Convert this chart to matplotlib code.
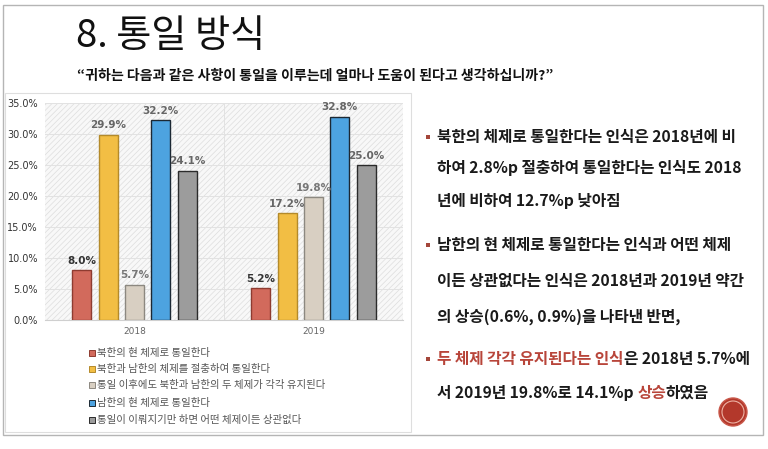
import matplotlib
matplotlib.use("Agg")
import matplotlib.pyplot as plt
import numpy as np
from matplotlib.patches import Rectangle, Ellipse

plt.rcParams['font.family'] = ['Noto Sans CJK KR', 'DejaVu Sans']
plt.rcParams['hatch.linewidth'] = 0.5

# 데이터
years = ['2018', '2019']
series_names = ['북한의 현 체제로 통일한다',
                '북한과 남한의 체제를 절충하여 통일한다',
                '통일 이후에도 북한과 남한의 두 체제가 각각 유지된다',
                '남한의 현 체제로 통일한다',
                '통일이 이뤄지기만 하면 어떤 체제이든 상관없다']
north_sys = [8.0, 5.2]
compromise = [29.9, 17.2]
two_sys = [5.7, 19.8]
south_sys = [32.2, 32.8]
any_sys = [24.1, 25.0]
y_ticks = [0, 5, 10, 15, 20, 25, 30, 35]

values = [north_sys, compromise, two_sys, south_sys, any_sys]
face_colors = ['#D26A5C', '#F2BE44', '#D8CFC2', '#4DA3E0', '#9C9C9C']
edge_colors = ['#8E3B30', '#B48A2A', '#8C8880', '#1C2833', '#2B2B2B']
label_colors = ['#333333', '#666666', '#777777', '#666666', '#666666']

W, H = 768, 449
fig = plt.figure(figsize=(W / 100, H / 100), dpi=100)
fig.patch.set_facecolor('white')

def fx(x):
    return x / W

def fy(y):
    return 1 - y / H

# 슬라이드 테두리
fig.add_artist(Rectangle((fx(3), fy(435)), fx(760), (435 - 5) / H,
                         transform=fig.transFigure, fill=False,
                         edgecolor='#b5b5b5', lw=1))
fig.add_artist(Rectangle((fx(5), fy(432)), fx(406), (432 - 93) / H,
                         transform=fig.transFigure, fill=False,
                         edgecolor='#dedede', lw=0.8))

# 제목
fig.text(fx(76), fy(37), '8. 통일 방식', fontsize=27.5, va='center', ha='left', color='#111111')
fig.text(fx(77), fy(76), '“귀하는 다음과 같은 사항이 통일을 이루는데 얼마나 도움이 된다고 생각하십니까?”',
         fontsize=10.1, fontweight='bold', va='center', ha='left', color='#111111')

# 차트
ax = fig.add_axes([fx(45), fy(320), (403 - 45) / W, (320 - 103) / H])
ax.add_patch(Rectangle((0, 0), 1, 1, transform=ax.transAxes, facecolor='#f8f8f8',
                       edgecolor='#dddddd', hatch='//////', lw=0, zorder=0))

x = np.arange(len(years))
step = 0.1475
width = 0.106
for i, vals in enumerate(values):
    pos = x + (i - 2) * step
    bars = ax.bar(pos, vals, width, color=face_colors[i], edgecolor=edge_colors[i],
                  lw=1, zorder=3, label=series_names[i])
    for b, v in zip(bars, vals):
        ax.annotate(f'{v:.1f}%', (b.get_x() + b.get_width() / 2, v),
                    xytext=(0, 3), textcoords='offset points', ha='center', va='bottom',
                    fontsize=7.5, fontweight='bold', color=label_colors[i],
                    family='DejaVu Sans', zorder=4)

ax.set_xlim(-0.5, 1.5)
ax.set_ylim(0, 35)
ax.set_yticks(y_ticks)
ax.set_yticklabels([f'{t:.1f}%' for t in y_ticks], fontsize=7, color='#333333',
                   family='DejaVu Sans')
ax.set_xticks(x)
ax.set_xticklabels(years, fontsize=6.5, color='#666666', family='DejaVu Sans')
ax.tick_params(length=0, pad=5)
for s in ['top', 'right', 'left']:
    ax.spines[s].set_visible(False)
ax.spines['bottom'].set_color('#cfcfcf')
ax.grid(axis='y', color='#e2e2e2', lw=0.7, zorder=1)
ax.axvline(0.5, color='#e2e2e2', lw=0.7, zorder=1)
ax.set_axisbelow(True)

# 범례
legend_y = [353, 369, 385, 403, 420]
for i, name in enumerate(series_names):
    fig.add_artist(Rectangle((fx(89), fy(legend_y[i] + 3)), 6 / W, 6 / H,
                             transform=fig.transFigure, facecolor=face_colors[i],
                             edgecolor=edge_colors[i], lw=0.7))
    fig.text(fx(97), fy(legend_y[i]), name, fontsize=7.5, va='center', ha='left',
             color='#555555')

# 오른쪽 설명
black = '#1a1a1a'
red = '#B8453A'
lines = [
    (137, True, [('북한의 체제로 통일한다는 인식은 2018년에 비', black)]),
    (168, False, [('하여 2.8%p 절충하여 통일한다는 인식도 2018', black)]),
    (201, False, [('년에 비하여 12.7%p 낮아짐', black)]),
    (245, True, [('남한의 현 체제로 통일한다는 인식과 어떤 체제', black)]),
    (281, False, [('이든 상관없다는 인식은 2018년과 2019년 약간', black)]),
    (317, False, [('의 상승(0.6%, 0.9%)을 나타낸 반면,', black)]),
    (359, True, [('두 체제 각각 유지된다는 인식', red), ('은 2018년 5.7%에', black)]),
    (393, False, [('서 2019년 19.8%로 14.1%p ', black), ('상승', red), ('하였음', black)]),
]
body_size = 11.3

renderer = fig.canvas.get_renderer()

def text_width(s):
    t = fig.text(0, 0, s, fontsize=body_size, fontweight='bold')
    w = t.get_window_extent(renderer=renderer).width
    t.remove()
    return w

for y, bullet, segs in lines:
    if bullet:
        fig.add_artist(Rectangle((fx(426), fy(y + 2)), 4 / W, 4 / H,
                                 transform=fig.transFigure, facecolor='#A4463A', lw=0))
    prefix = ''
    for s, c in segs:
        prefix += s
        start = text_width(prefix) - text_width(s) if prefix != s else 0
        fig.text(fx(437 + start), fy(y), s, fontsize=body_size, fontweight='bold',
                 va='center', ha='left', color=c)

# 장식 원
fig.add_artist(Ellipse((fx(733), fy(412)), 28 / W, 28 / H, transform=fig.transFigure,
                       facecolor='#B3382B', edgecolor='#C9584A', lw=1))
fig.add_artist(Ellipse((fx(733), fy(412)), 22 / W, 22 / H, transform=fig.transFigure,
                       facecolor='none', edgecolor='#EDB3A5', lw=0.8))

fig.savefig('out.png', dpi=100)
